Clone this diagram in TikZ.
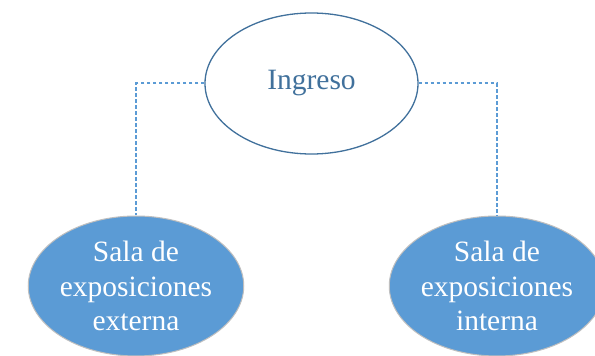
\documentclass[tikz,border=0pt]{standalone}
\usepackage{fontspec}
\setmainfont{Liberation Serif}
\usetikzlibrary{shapes.geometric}
\definecolor{topline}{HTML}{41719C}
\definecolor{toptext}{HTML}{41719C}
\definecolor{fillblue}{HTML}{5B9BD5}
\definecolor{connblue}{HTML}{5B9BD5}
\tikzset{
  topnode/.style={ellipse, draw=topline, line width=1.3pt, fill=white, minimum width=213pt, minimum height=141pt, inner sep=0pt, text=toptext, font=\fontsize{29.5}{34.5}\selectfont},
  salanode/.style={ellipse, draw=black!25, line width=1pt, fill=fillblue, minimum width=213pt, minimum height=140pt, inner sep=0pt, text=white, align=center, font=\fontsize{29.5}{34.5}\selectfont},
  conn/.style={draw=connblue, line width=2pt, dash pattern=on 3.5pt off 2.5pt}
}
\begin{document}
\begin{tikzpicture}[x=1pt,y=1pt]
\useasboundingbox (0,0) rectangle (595,356);
\fill[white] (0,0) rectangle (595,356);
\node[topnode] (top) at (311.5,272.5) {Ingreso};
\node[salanode] (left) at (136,70) {Sala de\\exposiciones\\externa};
\node[salanode] (right) at (497,70) {Sala de\\exposiciones\\interna};
\draw[conn] (top.west) -| (left.north);
\draw[conn] (top.east) -| (right.north);
\end{tikzpicture}
\end{document}
